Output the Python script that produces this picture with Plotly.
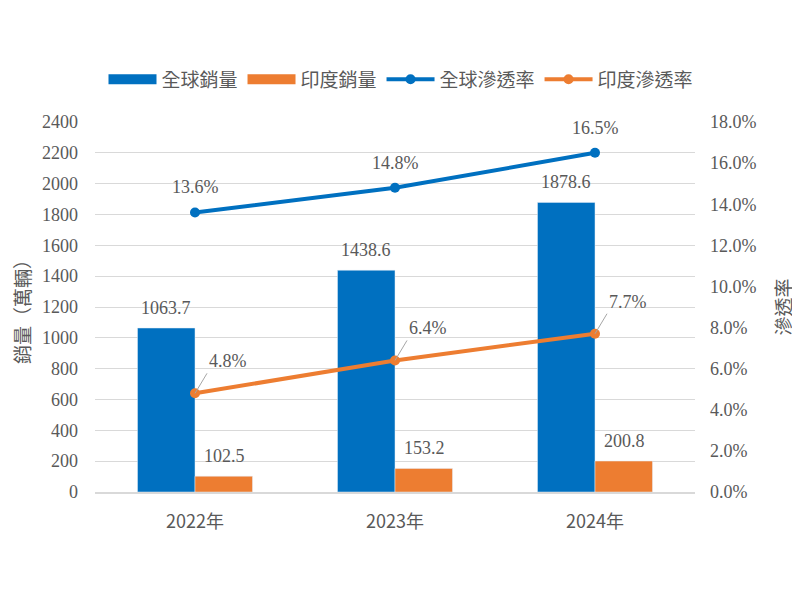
import plotly.graph_objects as go

# data
years = ["2022年", "2023年", "2024年"]
global_sales = [1063.7, 1438.6, 1878.6]
india_sales = [102.5, 153.2, 200.8]
global_rate = [0.136, 0.148, 0.165]
india_rate = [0.048, 0.064, 0.077]

BLUE = "#0070c0"
ORANGE = "#ed7d31"
GREY = "#595959"
SANS = "Noto Sans CJK TC"
SERIF = "Times New Roman, Liberation Serif, serif"
label_font = dict(family=SERIF, size=18, color=GREY)

fig = go.Figure()

fig.add_trace(go.Bar(
    x=years, y=global_sales, name="全球銷量", showlegend=False,
    marker=dict(color=BLUE), offsetgroup="g",
))
fig.add_trace(go.Bar(
    x=years, y=india_sales, name="印度銷量", showlegend=False,
    marker=dict(color=ORANGE), offsetgroup="i",
))

# legend entries drawn as wide strips like the original
fig.add_trace(go.Scatter(x=[None], y=[None], mode="lines", name="全球銷量",
                         line=dict(color=BLUE, width=13)))
fig.add_trace(go.Scatter(x=[None], y=[None], mode="lines", name="印度銷量",
                         line=dict(color=ORANGE, width=13)))

fig.add_trace(go.Scatter(
    x=years, y=global_rate, name="全球滲透率", yaxis="y2",
    mode="lines+markers",
    line=dict(color=BLUE, width=4), marker=dict(size=10, color=BLUE),
))
fig.add_trace(go.Scatter(
    x=years, y=india_rate, name="印度滲透率", yaxis="y2",
    mode="lines+markers",
    line=dict(color=ORANGE, width=4), marker=dict(size=10, color=ORANGE),
))

# value labels
for yr, v in zip(years, global_sales):
    fig.add_annotation(x=yr, y=v, xref="x", yref="y", text=f"{v:.1f}",
                       showarrow=False, xshift=-29, yshift=20, font=label_font)
for yr, v in zip(years, india_sales):
    fig.add_annotation(x=yr, y=v, xref="x", yref="y", text=f"{v:.1f}",
                       showarrow=False, xshift=29, yshift=20, font=label_font)
for yr, v in zip(years, global_rate):
    fig.add_annotation(x=yr, y=v, xref="x", yref="y2", text=f"{v*100:.1f}%",
                       showarrow=False, yshift=25, font=label_font)
# India rate labels sit up-right of the point with a thin leader line
for yr, v in zip(years, india_rate):
    fig.add_annotation(
        x=yr, y=v, xref="x", yref="y2",
        text=f"{v*100:.1f}%", showarrow=True, arrowhead=0,
        arrowwidth=1, arrowcolor="#a6a6a6",
        ax=12, ay=-20, xanchor="left", yanchor="bottom",
        font=label_font,
    )

fig.update_layout(
    width=792, height=592,
    paper_bgcolor="white", plot_bgcolor="white",
    margin=dict(l=87, r=105, t=114, b=108),
    barmode="group", bargap=0.425, bargroupgap=0,
    font=dict(family=SANS, color=GREY, size=16),
    showlegend=True,
    legend=dict(
        orientation="h", x=0.51, xanchor="center", y=1.115, yanchor="middle",
        font=dict(family=SANS, size=19, color=GREY),
        itemwidth=48, tracegroupgap=0,
    ),
    xaxis=dict(
        showgrid=False, showline=True, linecolor="#d9d9d9", linewidth=1.5,
        ticks="", ticklabelstandoff=13, automargin=False,
        tickfont=dict(family=SANS, size=18, color=GREY),
    ),
    yaxis=dict(
        range=[0, 2400], dtick=200, showgrid=True, gridcolor="#d9d9d9",
        zeroline=False, ticks="", ticklabelstandoff=16, automargin=False,
        tickfont=dict(family=SERIF, size=18, color=GREY),
        title=dict(text="銷量（萬輛）", font=dict(family=SANS, size=19, color=GREY), standoff=10),
    ),
    yaxis2=dict(
        range=[0, 0.18], dtick=0.02, tickformat=".1%", overlaying="y", side="right",
        showgrid=False, zeroline=False, ticks="", ticklabelstandoff=14, automargin=False,
        tickfont=dict(family=SERIF, size=18, color=GREY),
        title=dict(text="滲透率", font=dict(family=SANS, size=19, color=GREY), standoff=22),
    ),
)

fig.write_html("out.html")
